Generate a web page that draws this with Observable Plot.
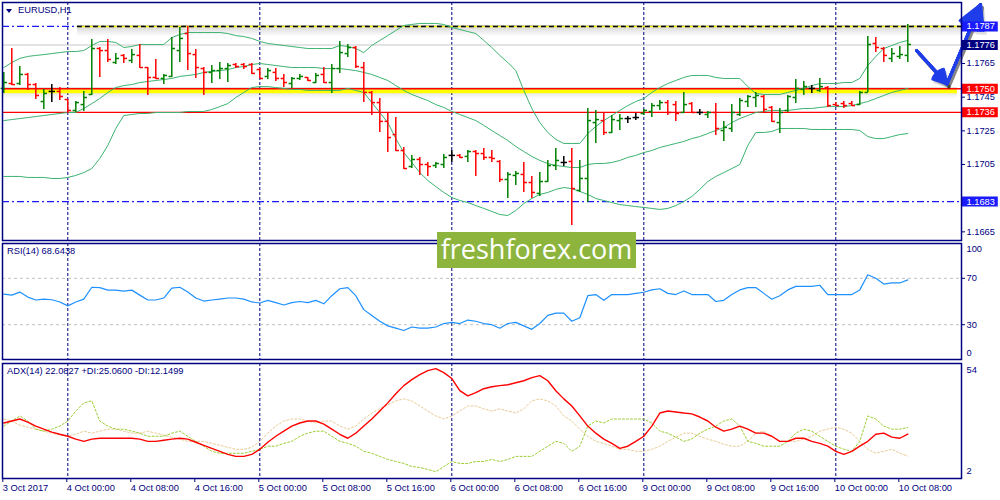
<!DOCTYPE html>
<html>
<head>
<meta charset="utf-8">
<script src="https://cdn.jsdelivr.net/npm/d3@7"></script>
<script src="https://cdn.jsdelivr.net/npm/@observablehq/plot@0.6"></script>
<style>
html,body{margin:0;padding:0;background:#fff;}
#chart{position:relative;width:1000px;height:500px;overflow:hidden;font-family:"Liberation Sans",Arial,sans-serif;}
#chart .pane{position:absolute;left:0;}
#chart svg{display:block;overflow:visible;}
.lbl{position:absolute;font-size:9.3px;color:#000080;white-space:nowrap;line-height:1;}
#tri{position:absolute;left:6px;top:9px;width:0;height:0;border-left:3px solid transparent;border-right:3px solid transparent;border-top:4px solid #000080;}
#wm{position:absolute;left:437px;top:232px;width:199px;height:36px;background:#8db53d;color:#fff;font-family:"Open Sans",sans-serif;font-size:27px;line-height:34px;text-align:center;}
</style>
</head>
<body>
<div id="chart"></div>
<script>
// ---------- DATA ----------
const xTickIdx = [0, 8, 16, 24, 32, 40, 48, 56, 64, 72, 80, 88, 96, 104, 112];
const xTickLabels = ["3 Oct 2017", "4 Oct 00:00", "4 Oct 08:00", "4 Oct 16:00", "5 Oct 00:00", "5 Oct 08:00", "5 Oct 16:00", "6 Oct 00:00", "6 Oct 08:00", "6 Oct 16:00", "9 Oct 00:00", "9 Oct 08:00", "9 Oct 16:00", "10 Oct 00:00", "10 Oct 08:00"];
const daySep = [8, 32, 56, 80, 104];

const open = [
1.17502,1.17531,1.17531,1.17585,1.17525,1.17424,1.17484,1.17484,1.17436,1.17371,
1.17406,1.17466,1.17739,1.17727,1.17656,1.17698,1.17668,1.17698,1.17626,1.17567,
1.17561,1.17573,1.17727,1.17828,1.17703,1.17620,1.17597,1.17608,1.17620,1.17644,
1.17644,1.17644,1.17614,1.17573,1.17597,1.17561,1.17531,1.17561,1.17567,1.17537,
1.17585,1.17537,1.17620,1.17709,1.17745,1.17626,1.17478,1.17418,1.17306,1.17228,
1.17133,1.17038,1.17080,1.17050,1.17044,1.17050,1.17104,1.17104,1.17098,1.17127,
1.17115,1.17092,1.17068,1.16961,1.16985,1.16991,1.16943,1.16878,1.16949,1.17044,
1.17062,1.17068,1.16896,1.16967,1.17299,1.17311,1.17240,1.17311,1.17323,1.17329,
1.17353,1.17365,1.17400,1.17418,1.17406,1.17359,1.17412,1.17359,1.17347,1.17359,
1.17252,1.17264,1.17347,1.17424,1.17448,1.17454,1.17389,1.17299,1.17371,1.17448,
1.17496,1.17502,1.17490,1.17507,1.17406,1.17412,1.17412,1.17406,1.17478,1.17769,
1.17739,1.17680,1.17692,1.17698];
const high = [
1.17597,1.17739,1.17632,1.17591,1.17531,1.17496,1.17525,1.17507,1.17436,1.17424,
1.17484,1.17793,1.17745,1.17793,1.17709,1.17703,1.17733,1.17763,1.17626,1.17674,
1.17585,1.17804,1.17864,1.17870,1.17733,1.17626,1.17638,1.17656,1.17650,1.17650,
1.17650,1.17650,1.17620,1.17620,1.17620,1.17585,1.17567,1.17585,1.17567,1.17591,
1.17626,1.17644,1.17781,1.17763,1.17751,1.17656,1.17484,1.17442,1.17353,1.17329,
1.17151,1.17104,1.17092,1.17062,1.17062,1.17109,1.17133,1.17109,1.17133,1.17133,
1.17145,1.17133,1.17074,1.17003,1.17009,1.17062,1.16979,1.17003,1.17074,1.17145,
1.17098,1.17145,1.17074,1.17383,1.17371,1.17359,1.17341,1.17347,1.17335,1.17353,
1.17377,1.17412,1.17430,1.17430,1.17424,1.17478,1.17418,1.17377,1.17365,1.17412,
1.17306,1.17406,1.17442,1.17460,1.17478,1.17460,1.17395,1.17383,1.17460,1.17555,
1.17543,1.17519,1.17561,1.17513,1.17418,1.17424,1.17424,1.17484,1.17810,1.17804,
1.17745,1.17739,1.17751,1.17882];
const low = [
1.17472,1.17519,1.17519,1.17490,1.17436,1.17377,1.17418,1.17430,1.17353,1.17359,
1.17365,1.17460,1.17567,1.17656,1.17644,1.17650,1.17650,1.17620,1.17460,1.17555,
1.17525,1.17567,1.17656,1.17608,1.17561,1.17460,1.17531,1.17555,1.17537,1.17620,
1.17614,1.17585,1.17561,1.17555,1.17543,1.17507,1.17502,1.17549,1.17543,1.17531,
1.17531,1.17472,1.17591,1.17686,1.17620,1.17418,1.17341,1.17240,1.17121,1.17127,
1.17020,1.17026,1.16985,1.16979,1.17026,1.17026,1.17062,1.17086,1.17062,1.16979,
1.17074,1.17062,1.16943,1.16848,1.16925,1.16884,1.16848,1.16860,1.16943,1.17014,
1.17038,1.16688,1.16884,1.16824,1.17175,1.17222,1.17234,1.17252,1.17294,1.17311,
1.17341,1.17329,1.17371,1.17341,1.17306,1.17353,1.17353,1.17341,1.17323,1.17222,
1.17187,1.17240,1.17335,1.17389,1.17389,1.17359,1.17299,1.17234,1.17359,1.17412,
1.17460,1.17472,1.17478,1.17389,1.17395,1.17383,1.17395,1.17400,1.17478,1.17715,
1.17656,1.17656,1.17674,1.17656];
const close = [
1.17537,1.17525,1.17585,1.17525,1.17460,1.17472,1.17484,1.17454,1.17371,1.17418,
1.17448,1.17739,1.17727,1.17674,1.17680,1.17680,1.17703,1.17626,1.17567,1.17561,
1.17579,1.17739,1.17799,1.17709,1.17626,1.17597,1.17608,1.17620,1.17638,1.17632,
1.17632,1.17591,1.17561,1.17608,1.17561,1.17537,1.17561,1.17573,1.17549,1.17579,
1.17537,1.17620,1.17715,1.17745,1.17632,1.17478,1.17418,1.17306,1.17210,1.17133,
1.17026,1.17080,1.17050,1.17038,1.17056,1.17092,1.17104,1.17092,1.17127,1.17115,
1.17092,1.17086,1.16961,1.16991,1.16997,1.16943,1.16884,1.16949,1.17044,1.17074,
1.17062,1.16907,1.16967,1.17311,1.17317,1.17240,1.17317,1.17323,1.17323,1.17329,
1.17371,1.17400,1.17418,1.17359,1.17353,1.17406,1.17359,1.17359,1.17359,1.17264,
1.17270,1.17359,1.17430,1.17454,1.17460,1.17377,1.17306,1.17359,1.17454,1.17502,
1.17513,1.17502,1.17513,1.17400,1.17400,1.17400,1.17400,1.17478,1.17763,1.17745,
1.17698,1.17709,1.17703,1.17763];

const bbUpper = [
1.17626,1.17656,1.17680,1.17692,1.17698,1.17703,1.17709,1.17715,1.17721,1.17721,
1.17727,1.17757,1.17781,1.17781,1.17775,1.17745,1.17751,1.17763,1.17763,1.17763,
1.17763,1.17804,1.17822,1.17834,1.17834,1.17834,1.17834,1.17834,1.17828,1.17816,
1.17810,1.17799,1.17781,1.17769,1.17763,1.17757,1.17751,1.17745,1.17739,1.17739,
1.17739,1.17739,1.17757,1.17751,1.17739,1.17715,1.17757,1.17787,1.17816,1.17846,
1.17876,1.17882,1.17888,1.17888,1.17888,1.17882,1.17864,1.17852,1.17840,1.17828,
1.17787,1.17745,1.17698,1.17656,1.17608,1.17490,1.17383,1.17299,1.17240,1.17199,
1.17175,1.17175,1.17175,1.17234,1.17276,1.17311,1.17341,1.17371,1.17400,1.17424,
1.17442,1.17478,1.17507,1.17531,1.17549,1.17567,1.17579,1.17579,1.17579,1.17567,
1.17561,1.17561,1.17561,1.17513,1.17472,1.17466,1.17466,1.17466,1.17478,1.17490,
1.17502,1.17519,1.17531,1.17531,1.17531,1.17537,1.17537,1.17561,1.17638,1.17692,
1.17739,1.17757,1.17775,1.17787];
const bbMiddle = [
1.17311,1.17317,1.17323,1.17329,1.17335,1.17341,1.17347,1.17353,1.17359,1.17359,
1.17383,1.17412,1.17442,1.17478,1.17507,1.17519,1.17525,1.17537,1.17543,1.17549,
1.17555,1.17561,1.17573,1.17579,1.17585,1.17597,1.17603,1.17608,1.17614,1.17626,
1.17632,1.17644,1.17650,1.17644,1.17638,1.17632,1.17626,1.17626,1.17626,1.17626,
1.17620,1.17620,1.17620,1.17614,1.17608,1.17597,1.17585,1.17567,1.17549,1.17519,
1.17490,1.17466,1.17448,1.17430,1.17406,1.17389,1.17365,1.17347,1.17329,1.17311,
1.17282,1.17252,1.17222,1.17193,1.17157,1.17127,1.17098,1.17074,1.17056,1.17044,
1.17038,1.17032,1.17032,1.17050,1.17056,1.17056,1.17062,1.17074,1.17092,1.17104,
1.17121,1.17133,1.17151,1.17163,1.17175,1.17187,1.17204,1.17216,1.17234,1.17252,
1.17270,1.17299,1.17323,1.17341,1.17359,1.17365,1.17371,1.17371,1.17371,1.17377,
1.17383,1.17383,1.17389,1.17394,1.17394,1.17394,1.17400,1.17412,1.17424,1.17442,
1.17460,1.17478,1.17490,1.17502];
const bbLower = [
1.16979,1.16979,1.16979,1.16973,1.16973,1.16973,1.16967,1.16967,1.16973,1.16985,
1.17002,1.17026,1.17086,1.17163,1.17264,1.17341,1.17347,1.17353,1.17353,1.17359,
1.17359,1.17359,1.17359,1.17365,1.17365,1.17365,1.17377,1.17394,1.17412,1.17448,
1.17478,1.17507,1.17513,1.17513,1.17507,1.17502,1.17496,1.17496,1.17490,1.17490,
1.17490,1.17490,1.17490,1.17502,1.17490,1.17478,1.17418,1.17359,1.17299,1.17204,
1.17121,1.17062,1.17002,1.16955,1.16919,1.16884,1.16854,1.16836,1.16824,1.16806,
1.16789,1.16771,1.16753,1.16747,1.16777,1.16818,1.16848,1.16872,1.16884,1.16902,
1.16913,1.16907,1.16890,1.16872,1.16848,1.16836,1.16824,1.16812,1.16806,1.16800,
1.16795,1.16789,1.16783,1.16789,1.16806,1.16830,1.16860,1.16902,1.16949,1.16979,
1.17002,1.17026,1.17050,1.17163,1.17240,1.17240,1.17246,1.17264,1.17264,1.17264,
1.17264,1.17258,1.17258,1.17258,1.17258,1.17258,1.17258,1.17252,1.17216,1.17204,
1.17204,1.17216,1.17228,1.17234];

const rsi = [
56.4,55.5,58.1,53.8,51.3,52.1,51.5,49.6,46.2,49.6,
52.1,62.3,62.0,59.8,59.8,58.9,59.8,55.5,51.3,51.3,
53.0,61.5,62.3,58.1,53.0,50.4,51.3,52.1,53.0,53.0,
52.1,49.6,48.7,51.0,49.0,47.0,49.0,50.0,49.0,51.0,
48.0,55.0,61.0,62.0,55.0,43.0,38.0,33.0,29.0,27.0,
25.0,28.0,27.0,27.0,28.0,31.0,32.0,31.0,34.0,33.0,
31.0,30.0,27.0,31.0,32.0,29.0,26.0,31.0,38.0,40.0,
40.0,33.0,36.0,55.0,56.0,51.0,56.0,56.0,56.0,57.0,
58.0,60.0,61.0,57.0,56.0,59.0,56.0,56.0,56.0,50.0,
51.0,56.0,60.0,62.0,62.0,57.0,52.0,55.0,60.0,63.0,
63.0,63.0,64.0,56.0,56.0,56.0,56.0,60.0,73.0,70.0,
65.0,66.0,66.0,68.6438];
const rsiLevels = [30, 70];

const adx = [
27.1,28.0,28.9,27.5,25.7,24.3,23.0,22.0,21.1,19.8,
18.8,19.8,20.2,20.2,20.2,20.2,20.2,19.8,18.8,18.8,
19.3,19.8,20.2,19.8,18.4,17.0,15.6,14.3,12.9,12.0,
12.0,12.9,15.2,18.4,21.1,23.4,25.7,27.1,28.0,28.0,
26.6,24.3,22.0,20.2,22.5,25.7,28.9,32.5,36.2,40.3,
44.0,46.7,49.0,50.8,51.7,49.9,47.2,41.7,39.4,40.8,
42.6,43.5,44.0,44.4,45.3,46.2,47.6,48.5,46.2,41.7,
38.0,34.8,30.3,25.7,22.5,19.8,17.9,15.6,16.6,18.8,
21.1,25.7,31.6,32.5,32.1,31.6,31.2,29.8,28.0,25.2,
23.4,24.3,25.7,24.3,22.5,22.5,21.1,18.8,18.8,20.2,
20.2,18.8,17.9,16.6,14.3,12.9,14.3,16.6,18.8,22.0,
22.5,20.7,20.2,22.0827];
const plusDI = [
25.7,28.0,30.3,28.0,24.3,23.4,24.3,25.7,28.0,32.5,
36.2,37.1,28.0,25.7,24.3,24.3,23.4,22.5,21.1,21.1,
21.1,22.5,23.4,21.1,18.8,16.6,14.3,13.4,13.4,13.4,
13.4,14.3,15.2,16.6,16.6,17.9,18.8,21.1,22.5,23.4,
23.4,21.1,18.8,17.9,16.6,14.3,13.4,12.0,10.6,9.7,
8.8,7.4,7.0,6.1,5.1,7.4,9.7,8.8,8.8,9.7,
9.7,10.6,9.7,10.6,12.0,12.0,12.0,14.3,16.6,18.8,
17.9,14.3,16.6,25.7,28.0,27.1,28.9,28.9,28.9,28.9,
28.9,27.1,23.4,22.5,20.7,18.8,19.8,22.5,24.3,25.7,
28.0,28.9,25.7,18.8,17.9,16.6,16.6,16.6,18.8,22.5,
24.3,23.4,21.1,18.8,16.6,15.2,14.3,18.8,30.3,28.9,
25.7,24.3,24.3,25.06];
const minusDI = [
28.9,28.0,26.1,25.2,24.3,23.4,22.5,21.6,21.1,22.0,
23.4,22.5,23.4,24.3,24.3,23.4,22.5,22.5,23.4,22.5,
21.6,20.7,19.8,18.8,18.8,18.8,17.9,17.0,16.1,15.2,
15.2,16.1,18.8,22.5,25.7,28.0,28.9,28.9,28.0,27.1,
28.0,28.0,25.7,24.3,25.7,28.9,31.6,33.5,35.3,37.1,
38.0,37.1,34.8,32.5,30.3,28.9,30.3,32.5,34.8,34.8,
33.5,32.5,33.5,32.5,31.6,33.5,37.1,38.0,37.1,34.8,
30.3,28.0,24.3,21.1,18.8,17.9,16.6,15.2,15.2,14.3,
14.3,15.2,16.6,18.8,20.7,22.5,22.5,21.1,19.8,18.8,
17.5,16.6,16.6,18.8,22.5,23.4,21.1,18.8,18.8,18.8,
19.8,21.1,23.4,24.3,25.2,24.3,22.5,18.8,15.2,13.4,
14.3,15.2,13.4,12.1499];

const priceTicks = [1.1665, 1.1705, 1.1725, 1.1745, 1.1765];
const resistance = 1.1787, currentPrice = 1.1776, pivot = 1.1750, support1 = 1.1736, support2 = 1.1683;
const labelValues = [1.1787, 1.1776, 1.1750, 1.1736, 1.1683];
const trendStart = 9.2, pivotEnd = 119.2;
// arrow annotation points (bar index, price)
const arrowPts = [[114.1, 1.17727], [117.9, 1.17529], [122.1, 1.18000]];

// ---------- STYLE ----------
const NAVY = "#000080", BB = "#3cb371", UP = "#008000", DOWN = "#ff0000", FLAT = "#000000";
const ARROW = "#1f3de8";
const labelColors = ["#1a1aff", "#000080", "#ff0000", "#ff0000", "#1a1aff"];
const FONT = "'Liberation Sans', Arial, sans-serif";
const xDomain = [-0.1625, 119.7125];
const style = {fontFamily: FONT, fontSize: "9.3px", color: NAVY, background: "transparent", overflow: "visible"};

const N = close.length;
const bars = d3.range(N).map(i => ({i, o: open[i], h: high[i], l: low[i], c: close[i],
  col: close[i] > open[i] ? UP : close[i] < open[i] ? DOWN : FLAT}));
const ser = arr => arr.map((v, i) => ({i, v}));
const arrowSegs = [
  {x1: arrowPts[0][0], y1: arrowPts[0][1], x2: arrowPts[1][0], y2: arrowPts[1][1]},
  {x1: arrowPts[1][0], y1: arrowPts[1][1], x2: arrowPts[2][0], y2: arrowPts[2][1]}
];
const tickLabel = new Map(xTickIdx.map((d, k) => [d, xTickLabels[k]]));

function shadow(v, x1, x2) {
  return d3.range(0, 11).map(k => Plot.ruleY([v], {x1, x2, dy: k - 1, stroke: "#000", strokeOpacity: 0.17 * (1 - k / 11)}));
}
// filled-looking arrow: several heads with different angles overlaid
function arrowMarks(extra) {
  return [10, 22, 34, 46, 58].map(a => Plot.arrow(arrowSegs, {x1: "x1", y1: "y1", x2: "x2", y2: "y2", strokeWidth: 3, headLength: 13, headAngle: a, ...extra}));
}

const mainPlot = Plot.plot({
  width: 1000, height: 241, marginLeft: 2, marginRight: 39, marginTop: 2, marginBottom: 1,
  style,
  x: {domain: xDomain, axis: null},
  y: {domain: [1.165985, 1.180124], axis: null},
  marks: [
    Plot.ruleX(daySep, {stroke: NAVY, strokeDasharray: "3,2"}),
    Plot.ruleY([currentPrice], {stroke: "#c8c8c8"}),
    ...shadow(resistance, trendStart, xDomain[1]),
    ...shadow(pivot, -0.1, pivotEnd),
    Plot.ruleY([resistance, support2], {stroke: "#1a1aff", strokeWidth: 1.2, strokeDasharray: "7,3,2,3"}),
    Plot.ruleY([resistance], {x1: trendStart, x2: xDomain[1], stroke: "#ffff00", strokeWidth: 1.5}),
    Plot.ruleY([resistance], {x1: trendStart, x2: xDomain[1], stroke: "#000", strokeWidth: 1.5, strokeDasharray: "5,3"}),
    Plot.ruleY([pivot], {x1: -0.1, x2: pivotEnd, stroke: "#ffff00", strokeWidth: 4, dy: 2.5}),
    Plot.ruleY([pivot], {stroke: "#ff0000", strokeWidth: 1.3}),
    Plot.ruleY([support1], {stroke: "#ff0000", strokeWidth: 1.3}),
    Plot.line(ser(bbUpper), {x: "i", y: "v", stroke: BB, strokeWidth: 1}),
    Plot.line(ser(bbMiddle), {x: "i", y: "v", stroke: BB, strokeWidth: 1}),
    Plot.line(ser(bbLower), {x: "i", y: "v", stroke: BB, strokeWidth: 1}),
    Plot.ruleX(bars, {x: "i", y1: "l", y2: "h", stroke: "col", strokeWidth: 1.5}),
    Plot.link(bars, {x1: d => d.i - 0.4, x2: "i", y1: "o", y2: "o", stroke: "col", strokeWidth: 1.5}),
    Plot.link(bars, {x1: "i", x2: d => d.i + 0.4, y1: "c", y2: "c", stroke: "col", strokeWidth: 1.5}),
    ...arrowMarks({stroke: "#000", strokeOpacity: 0.12, dx: 2, dy: 3}),
    ...arrowMarks({stroke: ARROW}),
    Plot.axisY(priceTicks, {anchor: "right", tickSize: 3, tickPadding: 2, label: null, tickFormat: d3.format(".4f")}),
    Plot.ruleY(labelValues, {y: d => d, x1: xDomain[1], x2: xDomain[1] + 4.6, stroke: (d, i) => labelColors[i], strokeWidth: 10}),
    Plot.text(labelValues, {y: d => d, x: xDomain[1], text: d => d.toFixed(4), dx: 5, textAnchor: "start", fill: "white"}),
    Plot.frame({stroke: NAVY, strokeWidth: 1.5})
  ]
});

const rsiPlot = Plot.plot({
  width: 1000, height: 118, marginLeft: 2, marginRight: 39, marginTop: 1, marginBottom: 1,
  style,
  x: {domain: xDomain, axis: null},
  y: {domain: [0, 100], axis: null},
  marks: [
    Plot.ruleX(daySep, {stroke: NAVY, strokeDasharray: "3,2"}),
    Plot.ruleY(rsiLevels, {stroke: "#c0c0c0", strokeDasharray: "3,3"}),
    Plot.line(ser(rsi), {x: "i", y: "v", stroke: "#1e90ff", strokeWidth: 1.2}),
    Plot.axisY(rsiLevels, {anchor: "right", tickSize: 3, tickPadding: 2, label: null}),
    Plot.axisY([100], {anchor: "right", tickSize: 0, tickPadding: 5, dy: 6, label: null}),
    Plot.axisY([0], {anchor: "right", tickSize: 0, tickPadding: 5, dy: -6, label: null}),
    Plot.frame({stroke: NAVY, strokeWidth: 1.5})
  ]
});

const adxPlot = Plot.plot({
  width: 1000, height: 138, marginLeft: 2, marginRight: 39, marginTop: 1, marginBottom: 22,
  style,
  x: {domain: xDomain},
  y: {domain: [2, 54], axis: null},
  marks: [
    Plot.ruleX(daySep, {stroke: NAVY, strokeDasharray: "3,2"}),
    Plot.line(ser(minusDI), {x: "i", y: "v", stroke: "#e8cc94", strokeWidth: 1, strokeDasharray: "2,2"}),
    Plot.line(ser(plusDI), {x: "i", y: "v", stroke: "#9acd32", strokeWidth: 1, strokeDasharray: "2,2"}),
    Plot.line(ser(adx), {x: "i", y: "v", stroke: "#ff0000", strokeWidth: 1.4}),
    Plot.axisY([54], {anchor: "right", tickSize: 0, tickPadding: 5, dy: 7, label: null}),
    Plot.axisY([2], {anchor: "right", tickSize: 0, tickPadding: 5, dy: -7, label: null}),
    Plot.axisX(xTickIdx, {anchor: "bottom", tickSize: 4, tickPadding: 2, textAnchor: "start", dx: -1, label: null, tickFormat: d => tickLabel.get(d)}),
    Plot.frame({stroke: NAVY, strokeWidth: 1.5})
  ]
});

const root = document.getElementById("chart");
[[mainPlot, 0], [rsiPlot, 242], [adxPlot, 362]].forEach(([p, top]) => {
  const d = document.createElement("div");
  d.className = "pane"; d.style.top = top + "px";
  d.appendChild(p); root.appendChild(d);
});
function addLabel(text, left, top) {
  const d = document.createElement("div");
  d.className = "lbl"; d.textContent = text; d.style.left = left + "px"; d.style.top = top + "px";
  root.appendChild(d);
}
const tri = document.createElement("div"); tri.id = "tri"; root.appendChild(tri);
addLabel("EURUSD,H1", 18, 6);
addLabel("RSI(14) " + rsi[N - 1].toFixed(4), 7, 247);
addLabel("ADX(14) " + adx[N - 1].toFixed(4) + " +DI:" + plusDI[N - 1].toFixed(4) + " -DI:" + minusDI[N - 1].toFixed(4), 7, 367);
const wm = document.createElement("div"); wm.id = "wm"; wm.textContent = "freshforex.com"; root.appendChild(wm);
</script>
</body>
</html>
